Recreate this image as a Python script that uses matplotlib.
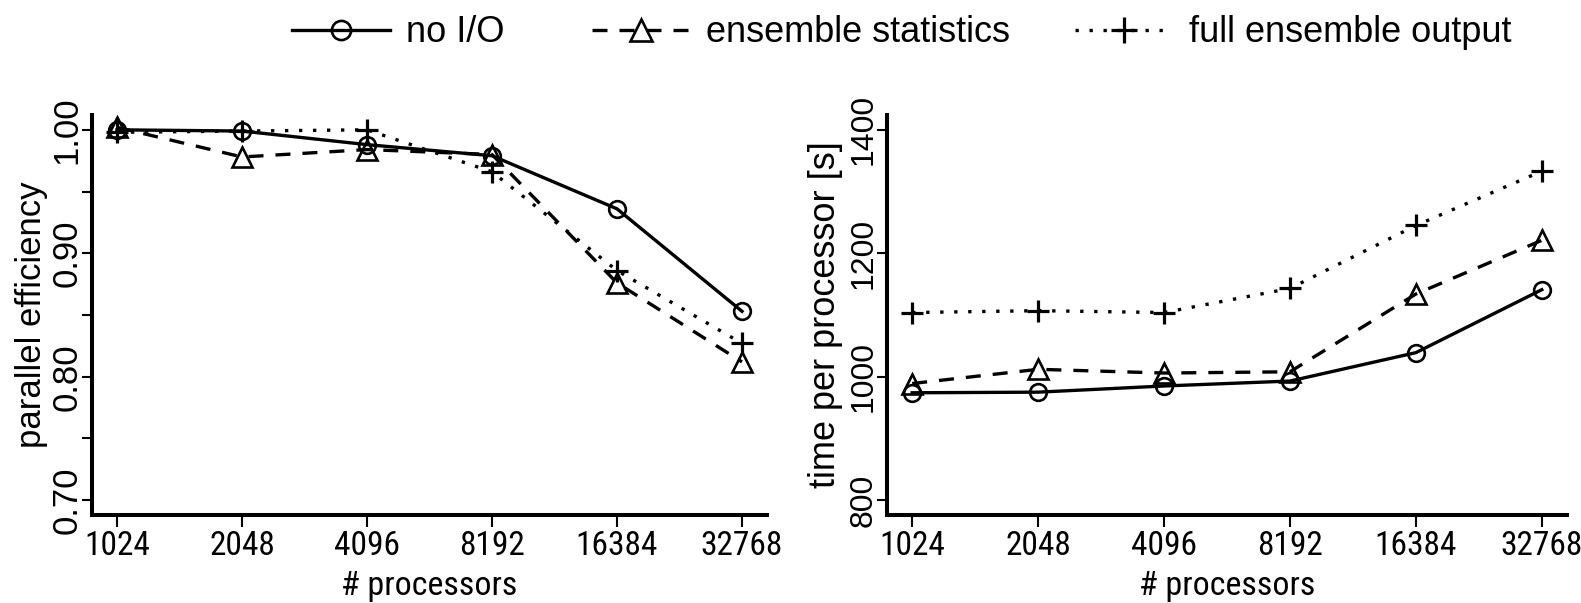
import numpy as np
import matplotlib.pyplot as plt

# data
procs = ['1024', '2048', '4096', '8192', '16384', '32768']
series_names = ['no I/O', 'ensemble statistics', 'full ensemble output']

eff_noio = [1.000, 0.999, 0.988, 0.979, 0.936, 0.853]
eff_stats = [1.002, 0.978, 0.984, 0.980, 0.876, 0.812]
eff_full = [0.998, 0.999, 1.000, 0.966, 0.886, 0.827]

time_noio = [974, 975, 985, 993, 1039, 1141]
time_stats = [989, 1012, 1006, 1008, 1134, 1221]
time_full = [1104, 1107, 1104, 1143, 1245, 1333]

eff_ticks = [0.70, 0.75, 0.80, 0.85, 0.90, 0.95, 1.00]
eff_ticklabels = ['0.70', '', '0.80', '', '0.90', '', '1.00']
time_ticks = [800, 1000, 1200, 1400]

plt.rcParams['font.family'] = ['Liberation Sans', 'DejaVu Sans']
# x axis text is narrow in the original
NARROW = ['Roboto Condensed', 'Liberation Sans Narrow', 'Liberation Sans']

styles = [
    dict(color='black', lw=2.4, ls='-', marker='o', ms=12, mfc='none', mew=1.9),
    dict(color='black', lw=2.4, ls=(0, (4.5, 3.6)), marker='^', ms=14, mfc='none', mew=1.9),
    dict(color='black', lw=2.4, ls=(0, (1, 3.2)), marker='+', ms=16, mew=2.3),
]

W, H = 1581, 603
fig = plt.figure(figsize=(W / 100, H / 100), dpi=100)


def style_axes(ax, ylim, yticks, yticklabels, ylabel, ytick_size, ylabel_size):
    x = np.arange(len(procs))
    ax.set_xlim(-0.2, 5.2)
    ax.set_ylim(*ylim)
    ax.set_xticks(x)
    ax.set_xticklabels(procs, fontsize=24, family=NARROW)
    ax.set_yticks(yticks)
    ax.set_yticklabels(yticklabels, fontsize=ytick_size, rotation=90, va='center')
    for s in ['top', 'right']:
        ax.spines[s].set_visible(False)
    for s in ['left', 'bottom']:
        ax.spines[s].set_linewidth(2.9)
    ax.tick_params(axis='x', direction='out', length=8.6, width=1.5, pad=2)
    ax.tick_params(axis='y', direction='out', length=7.5, width=1.5, pad=-1.5)
    ax.set_xlabel('# processors', fontsize=24.5, family=NARROW, labelpad=6)
    ax.set_ylabel(ylabel, fontsize=ylabel_size)
    ax.yaxis.set_label_coords(-0.065, 0.5)


x = np.arange(len(procs))

# left panel: parallel efficiency
ax1 = fig.add_axes([92 / W, 1 - 515 / H, 675 / W, 400 / H])
lines = []
for vals, st in zip([eff_noio, eff_stats, eff_full], styles):
    ln, = ax1.plot(x, vals, **st)
    lines.append(ln)
style_axes(ax1, (0.688, 1.012), eff_ticks, eff_ticklabels, 'parallel efficiency', 25, 25)

# right panel: time per processor
ax2 = fig.add_axes([887 / W, 1 - 515 / H, 680 / W, 400 / H])
for vals, st in zip([time_noio, time_stats, time_full], styles):
    ax2.plot(x, vals, **st)
style_axes(ax2, (776, 1424), time_ticks, [str(t) for t in time_ticks],
           'time per processor [s]', 23, 26)

# legend entries sit at uneven spacing in the original, so one legend per entry
leg_x = [292, 592, 1075]
for ln, name, lx in zip(lines, series_names, leg_x):
    fig.legend([ln], [name], loc='center left', bbox_to_anchor=(lx / W, 1 - 33 / H),
               frameon=False, fontsize=26, handlelength=2.72, handletextpad=0.45,
               borderpad=0, borderaxespad=0, numpoints=1, markerscale=1.15)

fig.savefig('out.png', dpi=100)
